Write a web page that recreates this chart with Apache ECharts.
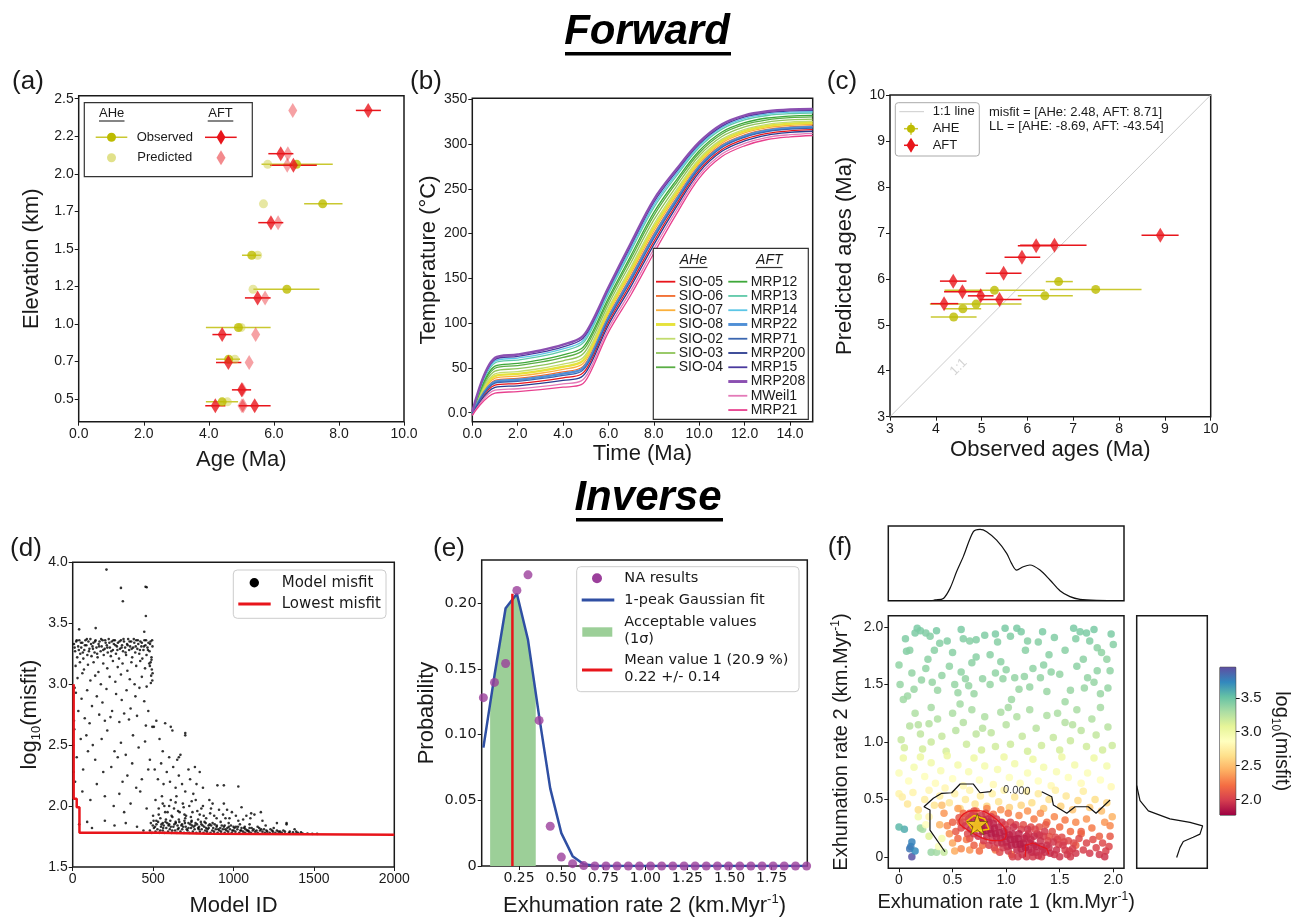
<!DOCTYPE html>
<html>
<head>
<meta charset="utf-8">
<script src="https://cdn.jsdelivr.net/npm/echarts@6/dist/echarts.min.js"></script>
<style>
  html, body { margin: 0; padding: 0; background: #fff; }
  #chart { width: 1295px; height: 918px; }
</style>
</head>
<body>
<div id="chart"></div>
<script>
// ---------- (a) age-elevation ----------
var aheElev = [2.063, 1.80, 1.458, 1.232, 0.977, 0.766, 0.482]
var aheObs = [6.70, 7.50, 5.32, 6.40, 4.91, 4.61, 4.41]
var aheLo = [5.62, 6.93, 5.02, 5.37, 3.91, 4.22, 3.91]
var aheHi = [7.81, 8.11, 5.60, 7.40, 5.90, 4.96, 4.90]
var ahePred = [5.81, 5.68, 5.50, 5.36, 4.99, 4.80, 4.57]
var aftElev = [2.422, 2.134, 2.057, 1.675, 1.174, 0.930, 0.744, 0.562, 0.456, 0.456]
var aftObs = [8.90, 6.21, 6.60, 5.91, 5.50, 4.41, 4.60, 5.01, 4.20, 5.41]
var aftLo = [8.52, 5.83, 5.88, 5.52, 5.11, 4.11, 4.22, 4.71, 3.89, 4.92]
var aftHi = [9.29, 6.60, 7.32, 6.29, 5.90, 4.70, 5.00, 5.30, 4.51, 5.90]
var aftPred = [6.58, 6.43, 6.41, 6.13, 5.73, 5.44, 5.24, 5.04, 5.02, 5.06]
var aYTicks = [0.5, 0.75, 1, 1.25, 1.5, 1.75, 2, 2.25, 2.5]
var aYLabels = ['0.5', '0.7', '1.0', '1.2', '1.5', '1.7', '2.0', '2.2', '2.5']

// ---------- (b) thermal histories ----------
var bTime = [0, 1, 2, 3, 4, 4.8, 5.2, 6, 7, 8, 9, 10, 11, 12, 13, 14, 15]
var bCurves = [
  ['SIO-05', '#e8151b', 1.3, [-1.8, 30.7, 32.6, 35.3, 39, 42.9, 56.7, 101, 144.8, 191.2, 233, 270.8, 293.9, 305.5, 311.9, 314.7, 316]],
  ['SIO-06', '#f26a2c', 1.3, [-1, 36.2, 38.4, 41.5, 45.6, 50.3, 64.1, 108, 152.9, 199.6, 240, 276.4, 299, 310.2, 316.3, 319, 320.1]],
  ['SIO-07', '#fbb03b', 1.3, [-0.8, 38.6, 40.9, 44.1, 48.5, 53.4, 67.3, 111, 156.4, 203.2, 243, 278.8, 301.1, 312.3, 318.2, 320.8, 321.9]],
  ['SIO-08', '#e6e23a', 2.4, [-0.5, 41, 43.4, 46.7, 51.3, 56.6, 70.4, 114, 159.8, 206.8, 246, 281.2, 303.3, 314.3, 320.1, 322.6, 323.7]],
  ['SIO-02', '#c2dc6e', 1.3, [-0.3, 43.3, 45.9, 49.4, 54.2, 59.8, 73.6, 117, 163.3, 210.4, 249, 283.6, 305.4, 316.4, 322, 324.5, 325.4]],
  ['SIO-03', '#8fc45a', 1.3, [0, 46.5, 49.2, 52.9, 58, 64, 77.9, 121, 168, 215.2, 253, 286.8, 308.3, 319.1, 324.5, 326.9, 327.8]],
  ['SIO-04', '#5aae45', 1.3, [0, 49.7, 52.6, 56.4, 61.8, 68.2, 82.1, 125, 172.6, 220, 257, 290, 311.2, 321.8, 327, 329.4, 330.2]],
  ['MRP12', '#3ea83a', 1.3, [0.2, 52, 55, 59, 64.6, 71.4, 85.3, 128, 176, 223.6, 260, 292.4, 313.4, 323.8, 329, 331.2, 331.9]],
  ['MRP13', '#5ec9a8', 1.3, [0.4, 55.6, 58.8, 62.9, 68.9, 76.1, 90, 132.5, 181.3, 229, 264.5, 296, 316.6, 326.9, 331.8, 333.9, 334.6]],
  ['MRP14', '#5cc6e6', 1.3, [0.6, 57.6, 61, 65.1, 71.3, 78.7, 92.7, 135, 184, 232, 267, 298, 318.4, 328.6, 333.4, 335.5, 336]],
  ['MRP22', '#4f8fd6', 2.4, [-1.2, 34.6, 36.8, 39.7, 43.7, 48.2, 62, 106, 150.6, 197.2, 238, 274.8, 297.5, 308.9, 315.1, 317.8, 318.9]],
  ['MRP71', '#3b66b0', 1.3, [-1.5, 33.1, 35.1, 38, 41.8, 46.1, 59.8, 104, 148.2, 194.8, 236, 273.2, 296.1, 307.5, 313.8, 316.5, 317.8]],
  ['MRP200', '#2b3b8f', 1.3, [-2.2, 28.3, 30.1, 32.7, 36.1, 39.7, 53.5, 98, 141.3, 187.6, 230, 268.4, 291.8, 303.4, 310, 312.9, 314.2]],
  ['MRP15', '#4a3a9e', 1.3, [0.8, 59.5, 63, 67.3, 73.6, 81.4, 95.4, 137.5, 187, 235, 269.5, 300, 320, 330.3, 335, 337, 337.5]],
  ['MRP208', '#8b4fb1', 2.4, [1, 61.5, 65, 69.5, 76, 84, 98, 140, 190, 238, 272, 302, 322, 332, 336.5, 338.5, 339]],
  ['MWeil1', '#e47ab8', 1.3, [-2.6, 25.2, 26.8, 29.2, 32.3, 35.5, 49.2, 94, 136.6, 182.8, 226, 265.2, 288.9, 300.7, 307.5, 310.4, 311.9]],
  ['MRP21', '#e8408e', 1.3, [-3, 22, 23.5, 25.7, 28.5, 31.3, 45, 90, 132, 178, 222, 262, 286, 298, 305, 308, 309.5]]
]
var bAheNames = ['SIO-05', 'SIO-06', 'SIO-07', 'SIO-08', 'SIO-02', 'SIO-03', 'SIO-04']
var bAftNames = ['MRP12', 'MRP13', 'MRP14', 'MRP22', 'MRP71', 'MRP200', 'MRP15', 'MRP208', 'MWeil1', 'MRP21']

// ---------- (c) observed vs predicted ----------
var cAheObs = [4.39, 4.59, 4.88, 5.28, 6.38, 6.68, 7.49]
var cAhePred = [5.17, 5.35, 5.45, 5.75, 5.63, 5.94, 5.77]
var cAheLo = [3.89, 4.18, 3.87, 4.19, 5.79, 6.40, 6.49]
var cAheHi = [4.89, 4.99, 5.87, 6.38, 6.99, 6.99, 8.49]
var cAftObs = [4.18, 4.38, 4.58, 4.98, 5.39, 5.48, 5.88, 6.19, 6.59, 8.90]
var cAftPred = [5.46, 5.95, 5.72, 5.63, 5.55, 6.12, 6.47, 6.72, 6.73, 6.95]
var cAftLo = [3.89, 4.09, 4.18, 4.70, 4.96, 5.09, 5.50, 5.79, 5.84, 8.49]
var cAftHi = [4.49, 4.67, 4.99, 5.26, 5.87, 5.87, 6.28, 6.57, 7.29, 9.30]

// ---------- (d) misfit per model ----------
var dBand = [[8,3.33],[15,3.27],[22,3.35],[28,3.22],[34,3.31],[41,3.36],[47,3.25],[53,3.30],[60,3.34],[66,3.21],[72,3.28],[79,3.36],[85,3.32],[91,3.24],[98,3.35],[104,3.29],[110,3.37],[117,3.23],[123,3.31],[129,3.34],[136,3.26],[142,3.36],[148,3.30],[155,3.22],[161,3.33],[167,3.35],[174,3.27],[180,3.31],[186,3.36],[193,3.24],[199,3.29],[205,3.34],[212,3.32],[218,3.26],[224,3.37],[231,3.30],[237,3.23],[243,3.35],[250,3.28],[256,3.33],[262,3.36],[269,3.25],[275,3.31],[281,3.34],[288,3.21],[294,3.29],[300,3.36],[307,3.32],[313,3.27],[319,3.35],[326,3.30],[332,3.24],[338,3.33],[345,3.37],[351,3.28],[357,3.31],[364,3.35],[370,3.22],[376,3.30],[383,3.34],[389,3.26],[395,3.36],[402,3.29],[408,3.33],[414,3.25],[421,3.35],[427,3.31],[433,3.21],[440,3.28],[446,3.36],[452,3.32],[459,3.24],[465,3.30],[471,3.34],[478,3.27],[484,3.35],[490,3.22],[496,3.31],
  [12,3.30],[25,3.36],[38,3.28],[51,3.34],[63,3.26],[76,3.32],[88,3.37],[101,3.27],[114,3.33],[126,3.29],[139,3.35],[152,3.25],[164,3.31],[177,3.37],[190,3.28],[202,3.36],[215,3.30],[228,3.34],[240,3.27],[253,3.36],[266,3.32],[278,3.28],[291,3.35],[304,3.30],[316,3.37],[329,3.26],[342,3.32],[354,3.35],[367,3.29],[380,3.37],[392,3.31],[405,3.36],[418,3.28],[430,3.34],[443,3.31],[456,3.36],[468,3.28],[481,3.33],[494,3.36],
  [485,3.18],[492,3.12],[488,3.07],[495,3.03],[480,3.15],[497,3.09],[486,3.01],[490,3.20],[476,3.17]]
var dUpper = [[18,3.15],[45,3.18],[70,3.12],[95,3.16],[130,3.18],[160,3.10],[190,3.17],[215,3.13],[250,3.19],[280,3.14],[310,3.17],[340,3.11],[365,3.18],[395,3.15],[420,3.19],[450,3.13],
  [30,3.05],[60,3.09],[110,3.03],[140,3.07],[175,3.0],[230,3.06],[265,3.02],[300,3.08],[355,3.04],[385,3.0],[430,3.06],[460,2.98],
  [20,2.93],[55,2.88],[90,2.95],[120,2.82],[150,2.90],[185,2.85],[210,2.96],[245,2.78],[270,2.92],[305,2.87],[335,2.95],[360,2.80],[390,2.90],[415,2.97],[445,2.86],[470,2.78],
  [35,2.78],[75,2.72],[105,2.68],[165,2.75],[200,2.70],[235,2.73],[290,2.69],[320,2.76],[350,2.71],[400,2.74],[455,2.66],[495,2.65],
  [10,2.63],[50,2.55],[85,2.58],[125,2.50],[180,2.55],[215,2.62],[260,2.45],[300,2.52],[330,2.42],[375,2.58],[410,2.48],[450,2.53],[480,2.38],
  [25,2.40],[65,2.30],[95,2.45],[140,2.38],[190,2.28],[240,2.32],[280,2.40],[310,2.20],[340,2.25],[370,2.35],[395,2.15],[430,2.22],[470,2.30],
  [15,2.20],[60,2.12],[110,2.05],[150,2.18],[200,2.08],[255,2.00],[290,2.10],[320,1.95],[360,2.02],[420,2.12],[460,1.98],
  [40,1.85],[90,1.87],[120,1.82],[200,1.88],[260,1.84],[330,1.86],[400,1.83],[440,1.80],
  [5,2.28],[8,2.70],[3,2.5],[12,2.97]]
var dMid = [[505,2.65],[520,2.70],[540,2.55],[560,2.45],[575,2.68],[600,2.40],[620,2.62],[650,2.38],[670,2.42],[700,2.58],[720,2.30],[760,2.32],[790,2.28],
  [510,2.30],[530,2.22],[550,2.35],[565,2.18],[585,2.28],[605,2.20],[625,2.32],[640,2.15],[660,2.25],[680,2.18],[700,2.12],[730,2.22],[750,2.10],[770,2.18],[810,2.15],[850,2.05],[900,2.17],[940,2.02],[1030,2.16],[1110,1.94],
  [515,2.05],[535,1.98],[555,2.08],[570,2.00],[590,1.95],[610,2.05],[630,1.98],[645,2.08],[665,1.95],[685,2.02],[705,1.92],[725,2.00],[745,1.95],[765,2.05],[790,1.93],[810,2.00],[830,1.90],[860,1.98],[880,1.92],[910,1.97],[950,1.90],[990,1.95],[1030,1.88],[1080,1.92],[1130,1.93],
  [500,1.92],[520,1.88],[545,1.90],[560,1.86],[580,1.89],[600,1.85],[620,1.91],[640,1.87],[660,1.89],[680,1.85],[700,1.90],[720,1.86],[740,1.88],[760,1.84],[780,1.89],[800,1.85],[820,1.87],[845,1.84],[870,1.86],[895,1.83],[920,1.87],[945,1.84],[970,1.86],[1000,1.83],[1040,1.85],[1070,1.83],[1100,1.85],[1150,1.83],[1200,1.84],[1250,1.82],[1330,1.85]]
var dFloor = [[480,1.80],[492,1.78],[505,1.82],[515,1.79],[527,1.81],[538,1.78],[549,1.83],[560,1.80],[571,1.78],[582,1.82],[593,1.79],[604,1.81],[615,1.78],[626,1.83],[637,1.80],[648,1.78],[659,1.82],[670,1.79],[681,1.81],[692,1.78],[703,1.83],[714,1.80],[725,1.78],[736,1.82],[747,1.79],[758,1.81],[769,1.78],[780,1.82],[791,1.79],[802,1.81],[813,1.78],[824,1.80],[835,1.79],[846,1.82],[857,1.78],[868,1.80],[879,1.79],[890,1.81],[901,1.78],[912,1.80],[923,1.79],[934,1.81],[945,1.78],[956,1.80],[967,1.79],[978,1.81],[989,1.78],[1000,1.80],[1012,1.79],[1024,1.81],[1036,1.78],[1048,1.80],[1060,1.79],[1072,1.78],[1084,1.80],[1096,1.79],[1108,1.78],[1120,1.80],[1135,1.79],[1150,1.78],[1165,1.80],[1180,1.79],[1195,1.78],[1210,1.79],[1225,1.78],[1240,1.80],[1260,1.78],[1280,1.79],[1300,1.78],[1320,1.79],[1345,1.78],[1370,1.785],[1400,1.78],[1430,1.775],[1460,1.775],[1490,1.772],[1520,1.772],
  [498,1.84],[521,1.85],[544,1.80],[566,1.84],[588,1.86],[610,1.83],[632,1.85],[654,1.81],[676,1.84],[698,1.86],[720,1.82],[742,1.84],[764,1.86],[786,1.83],[808,1.84],[830,1.82],[852,1.85],[874,1.82],[896,1.84],[918,1.82],[940,1.83],[962,1.82],[984,1.84],[1006,1.82],[1028,1.83],[1050,1.82],[1075,1.81],[1100,1.82],[1125,1.81],[1160,1.82],[1190,1.81],[1230,1.81],[1270,1.80],[1310,1.80],[1350,1.79],[1390,1.79],[1420,1.785],
  [486,1.86],[503,1.88],[512,1.83],[531,1.87],[552,1.85],[563,1.82],[577,1.87],[596,1.84],[607,1.88],[619,1.80],[641,1.86],[652,1.84],[663,1.87],[687,1.83],[695,1.88],[709,1.81],[731,1.85],[738,1.87],[752,1.83],[773,1.85],[784,1.81],[797,1.87],[818,1.83],[827,1.86],[839,1.81],[861,1.84],[883,1.85],[905,1.81],[927,1.84],[949,1.81],[971,1.83],[993,1.80],[1015,1.83],[1043,1.80],[1066,1.82],[1090,1.80],[1113,1.82],[1143,1.80],[1172,1.81],[1205,1.80],[1245,1.79],[1290,1.79],
  [535,1.93],[575,1.95],[615,1.92],[655,1.96],[695,1.93],[735,1.91],[775,1.96],[815,1.92],[855,1.94],[895,1.90],[935,1.93],[975,1.90],[1015,1.92],[1060,1.89],[1105,1.90],[1180,1.88],[560,2.02],[600,2.0],[640,2.03],[690,1.99],[740,2.04],[800,1.98],[870,2.02],[960,1.97],[1050,1.99],[1170,1.95],[1270,1.86],[1380,1.81]]
var dOutliers = [[210,3.94],[300,3.79],[312,3.68],[453,3.80],[460,3.795],[455,3.56],[143,3.46],[40,3.45],[445,3.43],[940,2.17],[1330,1.86],[700,2.60],[610,2.65],[660,2.40]]
var dLowest = [[6,3.0],[6,2.06],[25,2.06],[25,1.99],[42,1.99],[42,1.78],[540,1.78],[540,1.772],[850,1.772],[850,1.765],[2000,1.765]]

// ---------- (e) exhumation rate 2 probability ----------
var eBinX = [0.038, 0.104, 0.170, 0.237, 0.303, 0.369, 0.435, 0.501, 0.568, 0.634, 0.700, 0.766, 0.832, 0.899, 0.965, 1.031, 1.097, 1.163, 1.230, 1.296, 1.362, 1.428, 1.494, 1.561, 1.627, 1.693, 1.759, 1.825, 1.892, 1.958]
var eNA = [0.128, 0.1396, 0.154, 0.2096, 0.2214, 0.1107, 0.0302, 0.0068, 0.0018, 0.0003, 0, 0, 0, 0, 0, 0, 0, 0, 0, 0, 0, 0, 0, 0, 0, 0, 0, 0, 0, 0]
var eFit = [0.09, 0.145, 0.196, 0.207, 0.172, 0.114, 0.059, 0.025, 0.0075, 0.0013, 0.0002, 0, 0, 0, 0, 0, 0, 0, 0, 0, 0, 0, 0, 0, 0, 0, 0, 0, 0, 0]
var eAccept = [[0.078, 0.124], [0.104, 0.148], [0.170, 0.196], [0.237, 0.207], [0.303, 0.172], [0.349, 0.131]]
var eMean = [[0.2104, 0], [0.2104, 0.207]]

// ---------- (f) exhumation rate 1 vs 2 ----------
var fPoints = [
  [0.0,1.67,3.38],[0.01,1.50,3.36],[0.07,1.79,3.42],[0.1,1.80,3.4],[0.15,1.95,3.44],[0.17,1.99,3.45],[0.2,1.97,3.44],[0.25,1.95,3.43],[0.29,1.92,3.42],[0.35,1.97,3.45],[0.33,1.80,3.4],[0.38,1.86,3.41],[0.45,1.88,3.42],[0.58,1.98,3.44],[0.6,1.90,3.42],[0.66,1.88,3.41],[0.72,1.89,3.42],[0.9,1.94,3.44],[0.92,1.87,3.41],[0.99,1.99,3.45],[1.04,1.92,3.43],[1.1,1.99,3.45],[1.14,1.96,3.44],[1.2,1.88,3.41],[1.34,1.96,3.44],[1.3,1.87,3.41],[1.45,1.91,3.43],[1.63,1.99,3.45],[1.65,1.90,3.42],[1.69,1.96,3.44],[1.75,1.95,3.44],[1.78,1.88,3.42],[1.82,1.98,3.45],[1.85,1.82,3.39],[1.89,1.78,3.38],[1.94,1.72,3.37],[1.98,1.94,3.44],[2.0,1.85,3.41],
  [0.04,1.37,3.33],[0.08,1.40,3.34],[0.21,1.54,3.37],[0.25,1.64,3.38],[0.31,1.52,3.36],[0.4,1.58,3.37],[0.36,1.45,3.35],[0.55,1.43,3.35],[0.58,1.61,3.38],[0.62,1.55,3.37],[0.65,1.49,3.36],[0.68,1.69,3.39],[0.72,1.74,3.4],[0.7,1.42,3.35],[0.78,1.55,3.37],[0.85,1.50,3.36],[0.95,1.70,3.39],[1.0,1.63,3.38],[0.97,1.55,3.37],[1.05,1.37,3.34],[1.08,1.56,3.37],[1.12,1.46,3.35],[1.17,1.57,3.37],[1.22,1.48,3.36],[1.25,1.64,3.38],[1.32,1.56,3.37],[1.38,1.44,3.35],[1.42,1.61,3.38],[1.5,1.59,3.37],[1.55,1.35,3.33],[1.6,1.45,3.35],[1.66,1.66,3.39],[1.73,1.47,3.35],[1.76,1.56,3.37],[1.82,1.52,3.36],[1.88,1.42,3.35],[1.95,1.47,3.36],[1.97,1.62,3.38],[0.14,1.46,3.35],[0.47,1.66,3.38],[1.4,1.76,3.4],[0.85,1.76,3.4],
  [0.06,1.9,3.43],[0.27,1.72,3.39],[0.5,1.78,3.4],[0.8,1.93,3.43],[1.18,1.8,3.4],[1.55,1.8,3.4],[1.72,1.72,3.39],[0.12,1.6,3.37],[0.52,1.5,3.36],[0.9,1.6,3.38],[1.35,1.67,3.39],[1.85,1.62,3.38],[0.18,1.15,3.25],[0.57,1.33,3.32],[1.02,1.3,3.31],[1.48,1.25,3.29],[1.88,1.3,3.31],[0.3,1.3,3.31],[0.78,1.12,3.24],[1.62,1.15,3.25],
  [0.02,1.02,3.2],[0.05,0.95,3.15],[0.1,1.14,3.25],[0.15,1.25,3.28],[0.2,1.07,3.22],[0.22,0.94,3.15],[0.28,1.16,3.26],[0.3,1.0,3.18],[0.36,1.2,3.27],[0.4,1.05,3.2],[0.44,0.92,3.14],[0.5,1.25,3.29],[0.53,1.1,3.24],[0.6,1.17,3.26],[0.63,0.98,3.17],[0.68,1.28,3.3],[0.72,1.07,3.22],[0.77,0.93,3.14],[0.8,1.22,3.28],[0.86,1.08,3.22],[0.9,0.96,3.16],[0.95,1.26,3.29],[1.0,1.15,3.25],[1.04,0.98,3.17],[1.1,1.22,3.27],[1.15,1.05,3.2],[1.2,0.92,3.14],[1.22,1.28,3.3],[1.28,1.12,3.24],[1.33,0.97,3.16],[1.38,1.23,3.28],[1.44,1.04,3.2],[1.5,0.93,3.14],[1.55,1.17,3.26],[1.6,1.01,3.18],[1.66,1.28,3.3],[1.7,1.1,3.23],[1.75,0.96,3.16],[1.8,1.2,3.27],[1.84,1.06,3.21],[1.9,0.93,3.15],[1.95,1.13,3.25],[1.99,0.97,3.17],
  [0.0,0.73,2.9],[0.04,0.86,3.0],[0.09,0.66,2.85],[0.14,0.78,2.95],[0.2,0.87,3.02],[0.24,0.7,2.88],[0.3,0.82,2.98],[0.34,0.64,2.84],[0.39,0.75,2.92],[0.45,0.88,3.02],[0.5,0.68,2.86],[0.55,0.8,2.96],[0.6,0.62,2.82],[0.65,0.74,2.92],[0.7,0.86,3.0],[0.75,0.67,2.86],[0.8,0.79,2.95],[0.88,0.63,2.82],[0.92,0.76,2.93],[0.98,0.87,3.01],[1.03,0.69,2.88],[1.08,0.81,2.97],[1.13,0.64,2.84],[1.2,0.73,2.91],[1.25,0.85,3.0],[1.3,0.66,2.85],[1.35,0.78,2.95],[1.42,0.62,2.82],[1.47,0.74,2.92],[1.52,0.87,3.01],[1.58,0.69,2.88],[1.64,0.8,2.96],[1.7,0.64,2.84],[1.76,0.73,2.9],[1.82,0.86,3.0],[1.88,0.67,2.86],[1.94,0.79,2.95],[1.98,0.61,2.82],
  [0.0,0.55,2.78],[0.03,0.52,2.75],[0.08,0.46,2.7],[0.13,0.56,2.78],[0.18,0.41,2.65],[0.24,0.5,2.73],[0.28,0.58,2.8],[0.33,0.45,2.68],[0.38,0.53,2.75],[0.43,0.6,2.8],[0.47,0.47,2.7],[0.52,0.55,2.77],[0.57,0.42,2.62],[0.62,0.5,2.72],[0.66,0.58,2.79],[0.71,0.46,2.66],[0.76,0.53,2.74],[0.82,0.44,2.6],[0.87,0.55,2.76],[0.93,0.48,2.68],[0.98,0.58,2.78],[1.03,0.43,2.58],[1.08,0.52,2.7],[1.14,0.45,2.6],[1.19,0.57,2.76],[1.24,0.47,2.64],[1.3,0.55,2.72],[1.35,0.42,2.55],[1.4,0.5,2.66],[1.46,0.58,2.76],[1.51,0.44,2.58],[1.56,0.53,2.7],[1.62,0.41,2.52],[1.67,0.49,2.62],[1.72,0.57,2.74],[1.78,0.43,2.55],[1.83,0.5,2.64],[1.89,0.4,2.5],[1.94,0.47,2.6],[1.99,0.35,2.45],
  [0.0,0.26,3.55],[0.05,0.24,3.6],[0.12,0.13,3.75],[0.11,0.09,3.78],[0.1,0.07,3.8],[0.15,0.05,3.72],[0.12,0.0,3.93],[0.2,0.25,3.35],[0.22,0.24,3.3],[0.3,0.04,3.35],[0.35,0.04,3.32],[0.42,0.04,3.2],[0.28,0.18,3.1],[0.18,0.35,2.95],[0.28,0.35,2.8],[0.25,0.28,2.85],[0.4,0.16,2.95],[0.37,0.09,2.9],
  [0.42,0.38,2.35],[0.45,0.27,2.3],[0.47,0.2,2.35],[0.5,0.12,2.4],[0.52,0.05,2.42],[0.55,0.42,2.38],[0.6,0.38,2.2],[0.63,0.15,2.25],[0.66,0.06,2.35],[0.72,0.4,2.25],[0.78,0.1,2.2],[0.82,0.42,2.3],[0.88,0.37,2.2],[0.9,0.06,2.25],[0.95,0.41,2.35],[1.02,0.38,2.25],[1.05,0.02,2.2],[1.12,0.36,2.3],[1.2,0.4,2.35],[1.26,0.33,2.25],[1.32,0.38,2.32],[1.38,0.3,2.2],[1.45,0.35,2.3],[1.5,0.26,2.2],[1.55,0.32,2.25],[1.6,0.22,2.2],[1.65,0.3,2.3],[1.7,0.2,2.18],[1.75,0.33,2.35],[1.8,0.25,2.25],[1.87,0.18,2.15],[1.92,0.3,2.35],[1.97,0.27,2.3],[0.38,0.28,2.45],[0.4,0.45,2.5],[1.65,0.1,2.15],[1.4,0.18,2.1],
  [0.6,0.3,2.05],[0.62,0.27,1.98],[0.65,0.33,2.0],[0.67,0.24,1.92],[0.69,0.3,1.88],[0.7,0.2,1.95],[0.72,0.35,1.98],[0.73,0.28,1.8],[0.75,0.25,1.83],[0.76,0.31,1.85],[0.78,0.22,1.88],[0.8,0.28,1.86],[0.82,0.18,1.92],[0.83,0.33,1.95],[0.85,0.24,1.87],[0.87,0.14,1.95],[0.88,0.29,1.9],[0.9,0.2,1.88],[0.92,0.12,1.96],[0.93,0.26,1.9],[0.95,0.16,1.9],[0.97,0.08,1.98],[0.98,0.22,1.9],[1.0,0.13,1.9],[1.02,0.05,1.97],[1.03,0.19,1.9],[1.05,0.1,1.88],[1.07,0.26,1.95],[1.08,0.15,1.88],[1.1,0.06,1.92],[1.12,0.2,1.9],[1.13,0.11,1.86],[1.15,0.02,1.95],[1.17,0.16,1.9],[1.18,0.08,1.87],[1.2,0.24,1.96],[1.22,0.12,1.9],[1.24,0.04,1.92],[1.26,0.18,1.93],[1.28,0.09,1.9],[1.3,0.01,1.95],[1.32,0.14,1.94],[1.34,0.06,1.92],[1.36,0.22,1.98],[1.38,0.1,1.95],[1.41,0.03,1.93],[1.44,0.13,1.97],[1.47,0.06,1.95],[1.5,0.0,1.96],[1.53,0.1,1.98],[1.57,0.02,1.97],[1.62,0.07,2.0],
  [0.64,0.2,2.05],[0.66,0.38,2.1],[0.7,0.4,2.08],[0.74,0.18,1.95],[0.77,0.36,1.98],[0.79,0.14,1.98],[0.81,0.38,2.05],[0.84,0.1,2.0],[0.86,0.35,2.0],[0.89,0.08,2.02],[0.91,0.33,2.0],[0.94,0.04,2.05],[0.96,0.3,1.98],[0.99,0.28,2.02],[1.01,0.24,1.96],[1.04,0.3,2.05],[1.06,0.0,2.0],[1.09,0.28,2.0],[1.11,0.0,1.98],[1.14,0.24,2.0],[1.16,0.28,2.08],[1.19,0.0,1.97],[1.21,0.2,1.98],[1.23,0.26,2.05],[1.25,0.0,1.98],[1.27,0.24,2.02],[1.29,0.2,2.0],[1.31,0.26,2.1],[1.33,0.0,2.0],[1.35,0.18,2.0],[1.37,0.28,2.12],[1.39,0.14,2.02],[1.43,0.22,2.08],[1.46,0.17,2.05],[1.49,0.11,2.02],[1.52,0.17,2.06],[1.55,0.06,2.0],[1.58,0.14,2.05],
  [0.68,0.36,2.0],[0.71,0.26,1.82],[0.74,0.33,1.86],[0.77,0.27,1.84],[0.79,0.32,1.9],[0.81,0.23,1.85],[0.84,0.3,1.9],[0.86,0.2,1.86],[0.89,0.25,1.88],[0.91,0.17,1.9],[0.94,0.21,1.88],[0.96,0.12,1.92],[0.99,0.18,1.88],[1.01,0.09,1.93],[1.04,0.15,1.87],[1.06,0.2,1.9],[1.09,0.11,1.88],[1.11,0.16,1.87],[1.14,0.07,1.9],[1.16,0.12,1.89],[1.19,0.18,1.92],[1.21,0.06,1.9],[1.23,0.15,1.92],[1.26,0.1,1.91],[1.28,0.04,1.93],[1.31,0.19,1.96],[1.33,0.09,1.93],[1.36,0.04,1.94],[1.4,0.08,1.95],[1.45,0.02,1.96],[1.48,0.15,2.02],[1.54,0.13,2.03],[1.59,0.05,1.99],[1.63,0.12,2.05],[0.57,0.3,2.12],[0.62,0.35,2.08],[0.66,0.16,2.1],[0.7,0.1,2.15],[0.75,0.05,2.2],[0.58,0.07,2.3],
  [1.6,0.0,1.98],[1.65,0.03,1.97],[1.68,0.16,2.05],[1.72,0.06,2.0],[1.75,0.12,2.03],[1.78,0.03,1.98],[1.81,0.15,2.06],[1.84,0.08,2.02],[1.87,0.02,1.97],[1.9,0.12,2.05],[1.93,0.05,2.0],[1.96,0.09,2.04],[1.97,0.18,2.12],[1.92,0.0,1.96],[1.7,0.22,2.15],
  [0.5,0.3,2.15],[0.53,0.22,2.12],[0.56,0.34,2.1],[0.58,0.25,2.05],[0.55,0.16,2.18]
]
var fContourLeft = [[0.429,0.044],[0.289,0.233],[0.289,0.408],[0.233,0.436],[0.32,0.51],[0.399,0.553],[0.492,0.558],[0.57,0.634],[0.694,0.634],[0.756,0.558],[0.85,0.567],[0.865,0.588]]
var fContourRight = [[1.332,0.567],[1.426,0.523],[1.441,0.451],[1.566,0.379],[1.643,0.436],[1.767,0.436],[1.839,0.379],[1.97,0.495]]
var fRedRing = [[0.56,0.32],[0.6,0.37],[0.68,0.40],[0.76,0.40],[0.86,0.36],[0.95,0.29],[1.0,0.21],[0.99,0.16],[0.92,0.14],[0.82,0.15],[0.72,0.19],[0.63,0.24],[0.56,0.3],[0.56,0.32]]
var fRedPatch = [[1.18,0.0],[1.18,0.1],[1.25,0.12],[1.38,0.07],[1.40,0.02]]
var fYellowRing = [[0.63,0.31],[0.7,0.36],[0.8,0.33],[0.84,0.24],[0.7,0.22],[0.63,0.31]]
var fBest = [[0.73, 0.285]]
var fTopKde = [[-0.1,0],[0.3,0],[0.336,0.01],[0.414,0.03],[0.476,0.165],[0.538,0.39],[0.6,0.59],[0.694,0.924],[0.756,0.955],[0.818,0.924],[0.911,0.81],[1.005,0.634],[1.05,0.5],[1.098,0.41],[1.16,0.455],[1.222,0.478],[1.316,0.41],[1.409,0.277],[1.502,0.134],[1.596,0.054],[1.689,0.018],[1.845,0.004],[2.1,0]]
var fRightKde = [[0,0.62],[0.047,0.49],[0.165,0.40],[0.47,0.33],[0.755,0.30],[0.934,0.27],[0.896,0.198],[0.80,0.17],[0.66,0.134],[0.613,0.08],[0.566,-0.006]]
var fTicks = [0, 0.5, 1, 1.5, 2]
var cbTicks = [2, 2.5, 3, 3.5]
var spectral = ['#9e0142', '#d53e4f', '#f46d43', '#fdae61', '#fee08b', '#ffffbf', '#e6f598', '#abdda4', '#66c2a5', '#3288bd', '#5e4fa2']

var F = '"Liberation Sans", Arial, sans-serif'
var FD = '"DejaVu Sans", sans-serif'
var INK = '#1a1a1a'
var RED = '#e8151b'
var OLIVE = '#bdbb00'

// plot boxes [left, top, width, height]
var boxes = [
  [78.7, 95.7, 325.3, 326],
  [472.3, 98.3, 340.4, 323.4],
  [890, 95, 320.7, 321.7],
  [72.7, 562.3, 321.6, 306],
  [481.7, 560, 325.6, 308.3],
  [888.3, 615.7, 235.7, 252.6],
  [888.3, 526, 235.7, 74.7],
  [1136.7, 615.7, 70.6, 252.6],
  [1220, 667.3, 15.7, 147.7]
]

function axis(gi, o) {
  var a = {
    type: 'value', gridIndex: gi, min: o.min, max: o.max,
    axisLine: { show: false, onZero: false },
    axisTick: { show: true, length: 4, lineStyle: { color: INK, width: 1 } },
    splitLine: { show: false },
    axisLabel: { color: INK, fontSize: o.fs || 14, fontFamily: o.ff || F, margin: 5 },
    nameLocation: 'middle',
    nameTextStyle: { color: INK, fontSize: o.nfs || 22, fontFamily: F }
  }
  if (o.interval) a.interval = o.interval
  if (o.ticks) { a.axisTick.customValues = o.ticks; a.axisLabel.customValues = o.ticks }
  if (o.fmt) a.axisLabel.formatter = o.fmt
  if (o.name) { a.name = o.name; a.nameGap = o.gap }
  if (o.rich) a.nameTextStyle.rich = o.rich
  if (o.rot !== undefined) a.nameRotate = o.rot
  if (o.position) a.position = o.position
  if (o.hide) a.show = false
  return a
}

function errBar(params, api) {
  var y = api.value(1)
  var p1 = api.coord([api.value(2), y])
  var p2 = api.coord([api.value(3), y])
  return { type: 'line', shape: { x1: p1[0], y1: p1[1], x2: p2[0], y2: p2[1] }, style: { stroke: api.visual('color'), lineWidth: 1.5 } }
}

function zip4(a, b, c, d) { return a.map(function (v, i) { return [v, b[i], c[i], d[i]] }) }
function zip2(a, b) { return a.map(function (v, i) { return [v, b[i]] }) }

function richKm(txt, fs) {
  return {
    name: '{a|' + txt + ' (km.Myr}{s|-1}{a|)}',
    rich: {
      a: { fontSize: fs, fontFamily: F, color: INK },
      s: { fontSize: Math.round(fs * 0.6), fontFamily: F, color: INK, padding: [0, 0, Math.round(fs * 0.6), 0] }
    }
  }
}
function richLog(fs) {
  return {
    name: '{a|log}{s|10}{a|(misfit)}',
    rich: {
      a: { fontSize: fs, fontFamily: F, color: INK },
      s: { fontSize: Math.round(fs * 0.6), fontFamily: F, color: INK, padding: [Math.round(fs * 0.6), 0, 0, 0] }
    }
  }
}

var fx1 = richKm('Exhumation rate 1', 20)
var fy2 = richKm('Exhumation rate 2', 20)
var ex2 = richKm('Exhumation rate 2', 22)
var dLog = richLog(22)
var cbLog = richLog(20)

var xAxes = [
  axis(0, { min: 0, max: 10, interval: 2, fmt: function (v) { return v.toFixed(1) }, name: 'Age (Ma)', gap: 27 }),
  axis(1, { min: 0, max: 15, interval: 2, fmt: function (v) { return v.toFixed(1) }, name: 'Time (Ma)', gap: 21 }),
  axis(2, { min: 3, max: 10, interval: 1, name: 'Observed ages (Ma)', gap: 22 }),
  axis(3, { min: 0, max: 2000, interval: 500, fmt: function (v) { return String(v) }, name: 'Model ID', gap: 28 }),
  axis(4, { min: 0.028, max: 1.962, ticks: [0.25, 0.5, 0.75, 1, 1.25, 1.5, 1.75], ff: FD, fs: 14, fmt: function (v) { return v.toFixed(2) }, name: ex2.name, rich: ex2.rich, gap: 27 }),
  axis(5, { min: -0.1, max: 2.1, ticks: fTicks, fmt: function (v) { return v === 0 ? '0' : v.toFixed(1) }, name: fx1.name, rich: fx1.rich, gap: 22 }),
  axis(6, { min: -0.1, max: 2.1, hide: true }),
  axis(7, { min: 0, max: 1, hide: true }),
  axis(8, { min: 0, max: 1, hide: true })
]
var yAxes = [
  axis(0, { min: 0.35, max: 2.52, ticks: aYTicks, fmt: function (v) { for (var i = 0; i < aYTicks.length; i++) if (Math.abs(aYTicks[i] - v) < 1e-6) return aYLabels[i]; return '' }, name: 'Elevation (km)', gap: 36 }),
  axis(1, { min: -10, max: 351, ticks: [0, 50, 100, 150, 200, 250, 300, 350], fmt: function (v) { return v === 0 ? '0.0' : String(v) }, name: 'Temperature (°C)', gap: 32 }),
  axis(2, { min: 3, max: 10, interval: 1, name: 'Predicted ages (Ma)', gap: 34 }),
  axis(3, { min: 1.5, max: 4.0, interval: 0.5, fmt: function (v) { return v.toFixed(1) }, name: dLog.name, rich: dLog.rich, gap: 30 }),
  axis(4, { min: 0, max: 0.2327, ticks: [0, 0.05, 0.1, 0.15, 0.2], ff: FD, fs: 14.5, fmt: function (v) { return v === 0 ? '0' : v.toFixed(2) }, name: 'Probability', gap: 44 }),
  axis(5, { min: -0.1, max: 2.1, ticks: fTicks, fmt: function (v) { return v === 0 ? '0' : v.toFixed(1) }, name: fy2.name, rich: fy2.rich, gap: 35 }),
  axis(6, { min: 0, max: 1, hide: true }),
  axis(7, { min: -0.1, max: 2.1, hide: true }),
  axis(8, { min: 1.77, max: 3.95, ticks: cbTicks, position: 'right', fs: 15, fmt: function (v) { return v.toFixed(1) }, name: cbLog.name, rich: cbLog.rich, gap: 34, rot: -90 })
]

var series = []
// (a)
series.push({ type: 'custom', xAxisIndex: 0, yAxisIndex: 0, renderItem: errBar, itemStyle: { color: '#c9c830' }, encode: { x: [0, 2, 3], y: 1 }, data: zip4(aheObs, aheElev, aheLo, aheHi), z: 2 })
series.push({ type: 'custom', xAxisIndex: 0, yAxisIndex: 0, renderItem: errBar, itemStyle: { color: RED }, encode: { x: [0, 2, 3], y: 1 }, data: zip4(aftObs, aftElev, aftLo, aftHi), z: 2 })
series.push({ type: 'scatter', xAxisIndex: 0, yAxisIndex: 0, symbol: 'circle', symbolSize: 9, itemStyle: { color: 'rgba(205,205,60,0.6)' }, data: zip2(ahePred, aheElev), z: 3 })
series.push({ type: 'scatter', xAxisIndex: 0, yAxisIndex: 0, symbol: 'diamond', symbolSize: [9, 15], itemStyle: { color: 'rgba(232,21,27,0.5)' }, data: zip2(aftPred, aftElev), z: 3 })
series.push({ type: 'scatter', xAxisIndex: 0, yAxisIndex: 0, symbol: 'circle', symbolSize: 9, itemStyle: { color: OLIVE }, data: zip2(aheObs, aheElev), z: 4 })
series.push({ type: 'scatter', xAxisIndex: 0, yAxisIndex: 0, symbol: 'diamond', symbolSize: [9, 15], itemStyle: { color: RED }, data: zip2(aftObs, aftElev), z: 4 })
// (b)
bCurves.forEach(function (c) {
  series.push({ type: 'line', name: c[0], xAxisIndex: 1, yAxisIndex: 1, symbol: 'none', smooth: 0.35,
    lineStyle: { color: c[1], width: c[2] }, data: zip2(bTime, c[3]), z: 2 })
})
// (c)
series.push({ type: 'line', xAxisIndex: 2, yAxisIndex: 2, symbol: 'none', lineStyle: { color: '#cccccc', width: 1 }, data: [[3, 3], [10, 10]], z: 1 })
series.push({ type: 'scatter', xAxisIndex: 2, yAxisIndex: 2, symbolSize: 0, data: [[4.5, 4.08]],
  label: { show: true, formatter: '1:1', rotate: 45, color: '#c8c8c8', fontSize: 13, fontFamily: F, position: 'inside' }, z: 1 })
series.push({ type: 'custom', xAxisIndex: 2, yAxisIndex: 2, renderItem: errBar, itemStyle: { color: '#c9c830' }, encode: { x: [0, 2, 3], y: 1 }, data: zip4(cAheObs, cAhePred, cAheLo, cAheHi), z: 2 })
series.push({ type: 'custom', xAxisIndex: 2, yAxisIndex: 2, renderItem: errBar, itemStyle: { color: RED }, encode: { x: [0, 2, 3], y: 1 }, data: zip4(cAftObs, cAftPred, cAftLo, cAftHi), z: 2 })
series.push({ type: 'scatter', xAxisIndex: 2, yAxisIndex: 2, symbol: 'circle', symbolSize: 9, itemStyle: { color: OLIVE }, data: zip2(cAheObs, cAhePred), z: 3 })
series.push({ type: 'scatter', xAxisIndex: 2, yAxisIndex: 2, symbol: 'diamond', symbolSize: [9, 15], itemStyle: { color: RED }, data: zip2(cAftObs, cAftPred), z: 3 })
// (d)
series.push({ type: 'scatter', xAxisIndex: 3, yAxisIndex: 3, symbolSize: 2.6, itemStyle: { color: '#000' },
  data: dBand.concat(dUpper, dMid, dFloor, dOutliers), z: 2, large: false })
series.push({ type: 'line', xAxisIndex: 3, yAxisIndex: 3, symbol: 'none', lineStyle: { color: RED, width: 2.5 }, data: dLowest, z: 3 })
// (e)
series.push({ type: 'line', xAxisIndex: 4, yAxisIndex: 4, symbol: 'none', lineStyle: { width: 0 }, areaStyle: { color: '#9ccf98', opacity: 1 }, data: eAccept, z: 1 })
series.push({ type: 'line', xAxisIndex: 4, yAxisIndex: 4, symbol: 'none', lineStyle: { color: '#2f4fa3', width: 2.5 }, data: zip2(eBinX, eFit), z: 2 })
series.push({ type: 'line', xAxisIndex: 4, yAxisIndex: 4, symbol: 'none', lineStyle: { color: RED, width: 2.5 }, data: eMean, z: 3 })
series.push({ type: 'scatter', xAxisIndex: 4, yAxisIndex: 4, symbolSize: 9, itemStyle: { color: '#9b3f9b' }, data: zip2(eBinX, eNA), z: 4, clip: true })
// (f)
var fIdx = series.length
series.push({ type: 'scatter', xAxisIndex: 5, yAxisIndex: 5, symbolSize: 7.5, itemStyle: { opacity: 0.85 },
  data: fPoints.slice().sort(function (p, q) { return q[2] - p[2] }), z: 2 })
series.push({ type: 'line', xAxisIndex: 5, yAxisIndex: 5, symbol: 'none', lineStyle: { color: '#111', width: 1.2 }, data: fContourLeft, z: 3 })
series.push({ type: 'line', xAxisIndex: 5, yAxisIndex: 5, symbol: 'none', lineStyle: { color: '#111', width: 1.2 }, data: fContourRight, z: 3 })
series.push({ type: 'line', xAxisIndex: 5, yAxisIndex: 5, symbol: 'none', smooth: 0.4, lineStyle: { color: '#e8151b', width: 1.2 }, data: fRedRing, z: 3 })
series.push({ type: 'line', xAxisIndex: 5, yAxisIndex: 5, symbol: 'none', lineStyle: { color: '#e8151b', width: 1.2 }, data: fRedPatch, z: 3 })
series.push({ type: 'line', xAxisIndex: 5, yAxisIndex: 5, symbol: 'none', lineStyle: { color: '#f2c200', width: 1.5 }, data: fYellowRing, z: 3 })
series.push({ type: 'scatter', xAxisIndex: 5, yAxisIndex: 5, symbol: 'path://M12,0 L14.9,8.1 L23.4,8.1 L16.6,13.2 L19.1,21.4 L12,16.5 L4.9,21.4 L7.4,13.2 L0.6,8.1 L9.1,8.1 Z',
  symbolSize: 21, itemStyle: { color: '#ffe619', borderColor: '#5a4a00', borderWidth: 0.8 }, data: fBest, z: 4 })
series.push({ type: 'scatter', xAxisIndex: 5, yAxisIndex: 5, symbolSize: 0, data: [[1.099, 0.576]],
  label: { show: true, formatter: '0.000', rotate: -5, color: '#111', fontSize: 11, fontFamily: F, position: 'inside' }, z: 4 })
series.push({ type: 'line', xAxisIndex: 6, yAxisIndex: 6, symbol: 'none', smooth: 0.3, lineStyle: { color: '#111', width: 1.2 }, data: fTopKde, z: 2 })
series.push({ type: 'line', xAxisIndex: 7, yAxisIndex: 7, symbol: 'none', lineStyle: { color: '#111', width: 1.2 }, data: fRightKde, z: 2 })
series.push({ type: 'scatter', xAxisIndex: 8, yAxisIndex: 8, data: [] })

// ---------- legends, titles, labels (graphic) ----------
var g = []
function txt(x, y, s, o) {
  o = o || {}
  g.push({ type: 'text', x: x, y: y, rotation: o.rot || 0, z: 100, style: { text: s, fill: o.color || INK, font: (o.weight || '') + ' ' + (o.size || 13) + 'px ' + (o.ff || F), textAlign: o.align || 'left', textVerticalAlign: 'middle' } })
}
function line(x1, y1, x2, y2, c, w) { g.push({ type: 'line', z: 100, shape: { x1: x1, y1: y1, x2: x2, y2: y2 }, style: { stroke: c, lineWidth: w } }) }
function rect(x, y, w, h, st, r) { g.push({ type: 'rect', z: 99, shape: { x: x, y: y, width: w, height: h, r: r || 0 }, style: st }) }
function dot(cx, cy, r, c) { g.push({ type: 'circle', z: 100, shape: { cx: cx, cy: cy, r: r }, style: { fill: c } }) }
function diamond(cx, cy, c) { g.push({ type: 'polygon', z: 100, shape: { points: [[cx, cy - 7.5], [cx + 4.5, cy], [cx, cy + 7.5], [cx - 4.5, cy]] }, style: { fill: c } }) }

// titles
txt(647, 32, 'Forward', { size: 42, weight: 'italic bold', align: 'center', color: '#000' })
rect(565, 52, 166, 3.5, { fill: '#000' })
txt(648, 498, 'Inverse', { size: 42, weight: 'italic bold', align: 'center', color: '#000' })
rect(576, 518, 147, 3.5, { fill: '#000' })
// panel letters
txt(28, 82, '(a)', { size: 26, align: 'center' })
txt(426, 82, '(b)', { size: 26, align: 'center' })
txt(842, 82, '(c)', { size: 26, align: 'center' })
txt(26, 549, '(d)', { size: 26, align: 'center' })
txt(449, 549, '(e)', { size: 26, align: 'center' })
txt(840, 548, '(f)', { size: 26, align: 'center' })

// (a) legend
rect(84.3, 102.7, 168, 74, { fill: '#fff', stroke: '#333', lineWidth: 1.2 })
txt(111.7, 113.3, 'AHe', { align: 'center' }); line(99, 121, 124.5, 121, '#333', 1.2)
txt(220.5, 113.3, 'AFT', { align: 'center' }); line(207.7, 121, 233.3, 121, '#333', 1.2)
line(95.7, 137.3, 127.3, 137.3, '#c9c830', 1.5); dot(111.5, 137.3, 4.5, OLIVE)
txt(136.7, 137.3, 'Observed')
line(205, 137.3, 236.7, 137.3, RED, 1.5); diamond(221, 137.3, RED)
dot(111.5, 157.7, 4.5, 'rgba(205,205,60,0.6)')
txt(137.3, 157.7, 'Predicted')
diamond(221, 157.7, 'rgba(232,21,27,0.5)')

// (b) legend
rect(653.3, 248.3, 155, 171, { fill: '#fff', stroke: '#333', lineWidth: 1.2 })
txt(693.3, 260, 'AHe', { size: 14, align: 'center', weight: 'italic' }); line(679.5, 267.5, 707.5, 267.5, '#333', 1.2)
txt(769.3, 260, 'AFT', { size: 14, align: 'center', weight: 'italic' }); line(756, 267.5, 782.5, 267.5, '#333', 1.2)
function findCurve(n) { for (var i = 0; i < bCurves.length; i++) if (bCurves[i][0] === n) return bCurves[i] }
bAheNames.forEach(function (n, i) {
  var c = findCurve(n), y = 281.7 + i * 14.26
  line(656, y, 675.3, y, c[1], c[2] + 0.5); txt(678.7, y, n, { size: 14 })
})
bAftNames.forEach(function (n, i) {
  var c = findCurve(n), y = 281.7 + i * 14.26
  line(728.3, y, 747.3, y, c[1], c[2] + 0.5); txt(750.7, y, n, { size: 14 })
})

// (c) legend + text
rect(895.3, 102.7, 84, 53.3, { fill: '#fff', stroke: '#aaa', lineWidth: 1 }, 3)
line(899.3, 111.7, 924, 111.7, '#cccccc', 1); txt(932.7, 111.7, '1:1 line')
line(904, 128.7, 918, 128.7, '#c9c830', 1.5); line(911, 122.7, 911, 134.7, '#c9c830', 1.5); dot(911, 128.7, 4, OLIVE)
txt(932.7, 128.7, 'AHE')
line(904, 145.3, 918, 145.3, RED, 1.5); line(911, 139.3, 911, 151.3, RED, 1.5); diamond(911, 145.3, RED)
txt(932.7, 145.3, 'AFT')
txt(989, 112.3, 'misfit = [AHe: 2.48, AFT: 8.71]')
txt(989, 126, 'LL = [AHE: -8.69, AFT: -43.54]')

// (d) legend
rect(233.3, 570, 152.7, 48.3, { fill: 'rgba(255,255,255,0.85)', stroke: '#cccccc', lineWidth: 1 }, 4)
dot(254.3, 582.7, 4.7, '#000'); txt(281.7, 582.7, 'Model misfit', { size: 15, ff: FD })
line(238.3, 604, 270.7, 604, RED, 3); txt(281.7, 604, 'Lowest misfit', { size: 15, ff: FD })

// (e) legend
rect(576.7, 566.7, 222.3, 125, { fill: 'rgba(255,255,255,0.85)', stroke: '#cccccc', lineWidth: 1 }, 4)
dot(597, 578.3, 5, '#9b3f9b'); txt(624.3, 578.3, 'NA results', { size: 14.5, ff: FD })
line(581.7, 600, 614.3, 600, '#2f4fa3', 3); txt(624.3, 600, '1-peak Gaussian fit', { size: 14.5, ff: FD })
rect(582.3, 627.3, 30, 9.4, { fill: '#9ccf98' })
txt(624.3, 622, 'Acceptable values', { size: 14.5, ff: FD }); txt(624.3, 639, '(1σ)', { size: 14.5, ff: FD })
line(582, 670, 612.3, 670, RED, 3)
txt(624.3, 660.7, 'Mean value 1 (20.9 %)', { size: 14.5, ff: FD }); txt(624.3, 677, '0.22 +/- 0.14', { size: 14.5, ff: FD })

// colorbar gradient
var cb = boxes[8]
g.push({ type: 'rect', z: 5, shape: { x: cb[0], y: cb[1], width: cb[2], height: cb[3] },
  style: { fill: new echarts.graphic.LinearGradient(0, 1, 0, 0, spectral.map(function (c, i) { return { offset: i / (spectral.length - 1), color: c } })) } })

var chart = echarts.init(document.getElementById('chart'), null, { renderer: 'canvas' })
chart.setOption({
  animation: false,
  backgroundColor: '#fff',
  grid: boxes.map(function (b, i) {
    return { left: b[0], top: b[1], width: b[2], height: b[3], show: true, borderColor: INK, borderWidth: (i === 8 ? 1 : 1.5), backgroundColor: 'transparent', containLabel: false }
  }),
  xAxis: xAxes,
  yAxis: yAxes,
  visualMap: [{ type: 'continuous', show: false, seriesIndex: fIdx, dimension: 2, min: 1.77, max: 3.95, inRange: { color: spectral } }],
  series: series,
  graphic: g
})
</script>
</body>
</html>
